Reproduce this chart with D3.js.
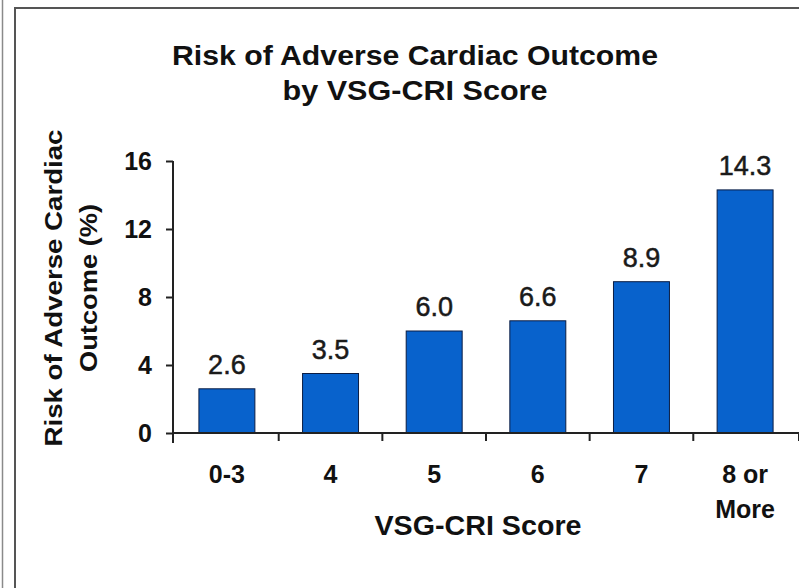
<!DOCTYPE html>
<meta charset="utf-8">
<style> /* set the CSS */
body { margin: 0; background: #fff; }
svg { display: block; font-family: "Liberation Sans", Arial, sans-serif; }
.bar { fill: #0862cc; stroke: #0b1d44; stroke-width: 1px; }
.axis line, .axis path { stroke: #222; stroke-width: 2px; }
</style>
<body>
<script src="https://d3js.org/d3.v7.min.js"></script>
<script>
// chart data
var categories = ["0-3", "4", "5", "6", "7", "8 or More"];
var risk = [2.6, 3.5, 6.0, 6.6, 8.9, 14.3];
var yTicks = [0, 4, 8, 12, 16];

// set the dimensions and margins of the graph
var W = 799, H = 588;
var margin = {top: 161, right: 0, bottom: 155, left: 173},
    width = W - margin.left - margin.right,
    height = H - margin.top - margin.bottom;

var svg = d3.select("body").append("svg")
    .attr("width", W)
    .attr("height", H);

// frame lines
svg.append("line")
    .attr("x1", 2.5).attr("x2", 2.5).attr("y1", 0).attr("y2", H)
    .style("stroke", "#8a8a8a").style("stroke-width", 1.5);
svg.append("rect")
    .attr("x", 15).attr("y", 8).attr("width", W + 20).attr("height", H + 20)
    .style("fill", "none").style("stroke", "#555").style("stroke-width", 2);

var g = svg.append("g")
    .attr("transform", "translate(" + margin.left + "," + margin.top + ")");

// set the ranges
var x = d3.scaleBand().domain(categories).range([0, width])
    .paddingInner(0.46).paddingOuter(0.25);
var y = d3.scaleLinear().domain([0, 16]).range([height, 0]);

// bars
g.selectAll(".bar")
    .data(risk)
  .enter().append("rect")
    .attr("class", "bar")
    .attr("x", function(d, i) { return x(categories[i]); })
    .attr("width", x.bandwidth())
    .attr("y", function(d) { return y(d); })
    .attr("height", function(d) { return height - y(d); });

// value labels
g.selectAll(".val")
    .data(risk)
  .enter().append("text")
    .attr("class", "val")
    .attr("x", function(d, i) { return x(categories[i]) + x.bandwidth() / 2; })
    .attr("y", function(d) { return y(d) - 15; })
    .style("text-anchor", "middle")
    .style("font-size", "27px")
    .style("fill", "#1a1a1a")
    .style("stroke", "#1a1a1a")
    .style("stroke-width", 0.5)
    .text(function(d) { return d.toFixed(1); });

// y axis
var yAxis = g.append("g")
    .attr("class", "axis")
    .call(d3.axisLeft(y).tickValues(yTicks).tickSize(7).tickFormat(d3.format("d")));
yAxis.select(".domain").attr("d", "M0,0V" + (height + 10));
yAxis.selectAll("text")
    .attr("x", -21)
    .attr("dy", "0.34em")
    .style("font-size", "25px")
    .style("font-weight", "bold")
    .style("fill", "#111")
    .style("font-family", "Liberation Sans, Arial, sans-serif");

// x axis: ticks at band edges
var edges = categories.map(function(c) { return x(c) - x.step() * x.paddingInner() / 2; });
edges.push(width);
var xAxis = g.append("g").attr("class", "axis");
xAxis.append("line")
    .attr("x1", 0).attr("x2", width).attr("y1", height).attr("y2", height);
xAxis.selectAll(".tick")
    .data(edges.slice(1))
  .enter().append("line")
    .attr("x1", function(d) { return d; }).attr("x2", function(d) { return d; })
    .attr("y1", height).attr("y2", height + 8);

// x tick labels
categories.forEach(function(c) {
  var lines = c === "8 or More" ? ["8 or", "More"] : [c];
  lines.forEach(function(t, j) {
    g.append("text")
      .attr("x", x(c) + x.bandwidth() / 2)
      .attr("y", height + 50 + j * 35)
      .style("text-anchor", "middle")
      .style("font-size", "25px")
      .style("font-weight", "bold")
      .style("fill", "#111")
      .text(t);
  });
});

// x axis title
svg.append("text")
    .attr("x", 478).attr("y", 535)
    .style("text-anchor", "middle")
    .style("font-size", "28px")
    .style("font-weight", "bold")
    .style("fill", "#111")
    .attr("textLength", 207).attr("lengthAdjust", "spacingAndGlyphs")
    .text("VSG-CRI Score");

// y axis title
[["Risk of Adverse Cardiac", 62, 317], ["Outcome (%)", 97, 168]].forEach(function(r) {
  svg.append("text")
    .attr("transform", "translate(" + r[1] + ",288) rotate(-90)")
    .style("text-anchor", "middle")
    .style("font-size", "24px")
    .style("font-weight", "bold")
    .style("fill", "#111")
    .attr("textLength", r[2]).attr("lengthAdjust", "spacingAndGlyphs")
    .text(r[0]);
});

// chart title
[["Risk of Adverse Cardiac Outcome", 65, 486], ["by VSG-CRI Score", 100, 265]].forEach(function(r) {
  svg.append("text")
    .attr("x", 415).attr("y", r[1])
    .style("text-anchor", "middle")
    .style("font-size", "28px")
    .style("font-weight", "bold")
    .style("fill", "#111")
    .attr("textLength", r[2]).attr("lengthAdjust", "spacingAndGlyphs")
    .text(r[0]);
});
</script>
</body>
